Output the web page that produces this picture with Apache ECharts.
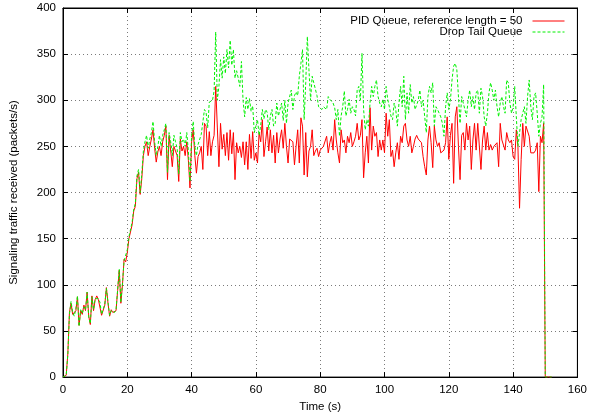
<!DOCTYPE html>
<html><head><meta charset="utf-8">
<script src="https://cdn.jsdelivr.net/npm/echarts@6/dist/echarts.min.js"></script>
<style>html,body{margin:0;padding:0;background:#fff}#c{width:590px;height:418px}</style>
</head><body><div id="c"></div>
<script>
// sampling interval of the measurements (s)
const timeStep = 0.5;
const seriesNames = ['PID Queue, reference length = 50', 'Drop Tail Queue'];
const xLabel = 'Time (s)';
const yLabel = 'Signaling traffic received (packets/s)';

// PID queue (red), one value every 0.5 s starting at t = 0
const pidQueue = [
  0,0,2,25,70,80,68,66,72,87, 56,72,68,78,72,92,66,57,88,72,
  84,88,84,82,67,66,78,97,80,66, 73,70,71,72,94,116,80,100,128,125,
  135,150,148,165,180,185,215,222,198,215, 240,250,255,240,250,258,268,248,233,244,
  250,240,255,262,272,214,262,245,228,250, 248,240,212,258,245,250,240,255,235,205,
  255,268,240,221,239,243,250,225,275,272, 240,266,240,255,262,315,271,228,275,247,
  263,240,265,235,268,242,265,214,254,243, 250,238,255,230,255,225,263,237,266,235,
  243,232,265,255,279,239,255,271,245,268, 243,262,232,265,243,258,268,248,275,250,
  232,258,260,255,230,250,268,232,281,272, 219,265,217,245,250,268,240,245,248,239,
  246,246,250,250,261,243,254,261,246,279, 257,243,232,268,254,257,243,261,254,265,
  250,255,261,275,257,262,279,216,243,261, 232,292,246,272,261,265,239,257,246,257,
  243,286,261,279,239,246,228,243,254,236, 261,254,272,275,257,250,261,243,250,258,
  262,258,257,254,239,228,219,257,272,254, 227,272,257,250,254,243,241,246,254,282,
  236,262,275,210,282,293,250,214,262,265, 246,275,257,272,225,257,275,246,275,250,
  225,257,272,246,265,246,252,246,250,250, 254,228,275,257,257,246,265,257,254,257,
  239,236,268,250,183,236,275,250,272,272, 261,243,243,243,246,254,201,261,254,275,
  0,0,0,0,0
];

// Drop Tail queue (green dashed), one value every 0.5 s starting at t = 0
const dropTail = [
  0,0,2,24,68,82,70,66,74,88, 55,73,69,76,73,92,65,58,87,73,
  85,87,85,81,68,67,79,96,81,67, 72,71,70,73,95,117,81,102,126,127,
  138,152,150,168,182,188,218,225,200,220, 245,255,262,248,258,265,277,255,240,250,
  262,250,262,268,275,222,265,255,240,262, 255,248,220,265,255,258,250,265,245,212,
  262,277,250,240,252,254,263,262,290,287, 270,298,296,300,310,374,300,315,344,324,
  347,329,355,335,365,338,355,324,332,324, 315,342,300,282,303,290,302,288,294,265,
  272,279,262,273,290,280,290,287,268,283, 290,272,275,297,283,290,297,278,300,275,
  297,298,311,290,305,309,305,326,340,355, 279,319,369,333,300,326,319,312,305,293,
  293,290,293,292,290,304,301,299,297,292, 279,290,261,283,293,310,283,290,301,286,
  293,290,283,311,315,300,351,290,268,279, 272,297,315,304,315,322,304,297,293,301,
  290,315,301,293,283,279,297,290,272,297, 315,293,326,279,308,286,317,297,304,290,
  290,300,311,293,300,300,265,304,315,308, 319,272,293,290,286,282,275,261,293,308,
  290,300,322,337,340,333,335,275,304,297, 290,282,300,311,293,304,290,308,311,286,
  313,304,282,272,286,308,319,311,300,311, 293,282,297,304,293,286,322,319,297,286,
  293,315,282,250,248,279,279,293,275,304, 322,293,279,304,308,286,261,275,282,317,
  0,0,0,0,0
];

const toPairs = arr => arr.map((v, i) => [i * timeStep, v]);

const RED = '#ff0000', GREEN = '#00f000', DASH = [3, 2];
const font = '"Liberation Sans", Arial, sans-serif';
const txt = {color: '#000', fontSize: 11.5, fontFamily: font};
const gridLine = {show: true, lineStyle: {color: '#7a7a7a', width: 1, type: [1, 3]}};
const axLine = {show: true, onZero: false, lineStyle: {color: '#000', width: 1}};
const tick = {show: true, inside: true, length: 5, lineStyle: {color: '#000'}};
const legendCommon = {
  right: 25, padding: 0, align: 'right', orient: 'vertical',
  itemWidth: 32, itemHeight: 10, selectedMode: false,
  itemStyle: {color: 'rgba(0,0,0,0)', borderColor: 'rgba(0,0,0,0)', borderWidth: 0, opacity: 0},
  textStyle: Object.assign({padding: [0, 5, 0, 0]}, txt)
};

const chart = echarts.init(document.getElementById('c'), null, {renderer: 'canvas'});
chart.setOption({
  animation: false,
  backgroundColor: '#fff',
  grid: {left: 63, right: 12, top: 8, bottom: 40, show: true, borderColor: '#000', borderWidth: 1},
  xAxis: [
    {type: 'value', min: 0, max: 160, interval: 20, position: 'bottom',
     axisLine: axLine, axisTick: tick, splitLine: gridLine,
     axisLabel: Object.assign({margin: 7}, txt),
     name: xLabel, nameLocation: 'middle', nameGap: 22, nameTextStyle: txt},
    {type: 'value', min: 0, max: 160, interval: 20, position: 'top',
     axisLine: axLine, axisTick: tick, splitLine: {show: false}, axisLabel: {show: false}}
  ],
  yAxis: [
    {type: 'value', min: 0, max: 400, interval: 50, position: 'left',
     axisLine: axLine, axisTick: tick, splitLine: gridLine,
     axisLabel: Object.assign({margin: 7}, txt),
     name: yLabel, nameLocation: 'middle', nameGap: 43, nameRotate: 90, nameTextStyle: txt},
    {type: 'value', min: 0, max: 400, interval: 50, position: 'right',
     axisLine: axLine, axisTick: tick, splitLine: {show: false}, axisLabel: {show: false}}
  ],
  legend: [
    Object.assign({data: [seriesNames[0]], top: 15, lineStyle: {color: RED, width: 1}}, legendCommon),
    Object.assign({data: [seriesNames[1]], top: 26, lineStyle: {color: GREEN, width: 1, type: DASH}}, legendCommon)
  ],
  series: [
    {name: seriesNames[0], type: 'line', data: toPairs(pidQueue), symbol: 'none', showSymbol: false,
     lineStyle: {color: RED, width: 1}, itemStyle: {color: RED}, z: 2},
    {name: seriesNames[1], type: 'line', data: toPairs(dropTail), symbol: 'none', showSymbol: false,
     lineStyle: {color: GREEN, width: 1, type: DASH}, itemStyle: {color: GREEN}, z: 3}
  ]
});
</script></body></html>
